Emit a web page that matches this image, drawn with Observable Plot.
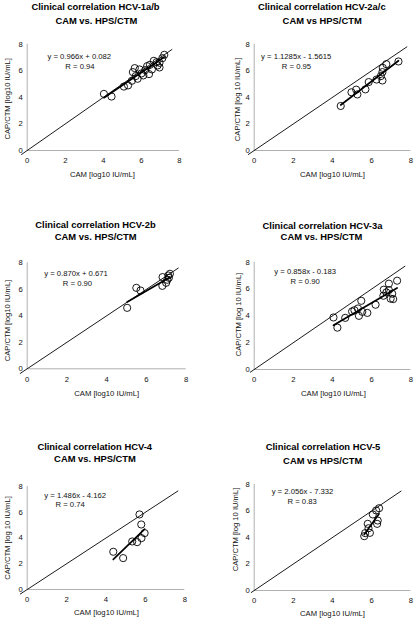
<!DOCTYPE html>
<html><head><meta charset="utf-8">
<script src="https://cdn.jsdelivr.net/npm/d3@7"></script>
<script src="https://cdn.jsdelivr.net/npm/@observablehq/plot@0.6"></script>
<style>
body{margin:0;background:#fff;}
#chart{position:relative;width:416px;height:621px;overflow:hidden;font-family:"Liberation Sans",Arial,sans-serif;}
#chart svg{position:absolute;overflow:visible;}
</style></head><body><div id="chart"></div>
<script>
// ---- text ----
const titles = ["Clinical correlation HCV-1a/b","Clinical correlation HCV-2a/c","Clinical correlation HCV-2b","Clinical correlation HCV-3a","Clinical correlation HCV-4","Clinical correlation HCV-5"];
const subtitles = ["CAM vs. HPS/CTM","CAM vs HPS/CTM","CAM vs. HPS/CTM","CAM vs. HPS/CTM","CAM vs. HPS/CTM","CAM vs HPS/CTM"];
const yLabels = ["CAP/CTM [log10 IU/mL]","CAP/CTM [log 10 IU/mL]","CAP/CTM [log10 IU/mL]","CAP/CTM [log 10 IU/mL]","CAP/CTM [log 10 IU/mL]","CAP/CTM [log 10 IU/mL]"];
const xLabels = ["CAM [log10 IU/mL]","CAM [log10 IU/mL]","CAM [log10 IU/mL]","CAM [log10 IU/mL]","CAM [log10 IU/mL]","CAM [log10 IU/mL]"];
const equations = ["y = 0.966x + 0.082","y = 1.1285x - 1.5615","y = 0.870x + 0.671","y = 0.858x - 0.183","y = 1.486x - 4.162","y = 2.056x - 7.332"];
const rTexts = ["R = 0.94","R = 0.95","R = 0.90","R = 0.90","R = 0.74","R = 0.83"];
const tickValues = [0,2,4,6,8];

// ---- regression ----
const slopes = [0.966, 1.1285, 0.870, 0.858, 1.486, 2.056];
const intercepts = [0.082, -1.5615, 0.671, -0.183, -4.162, -7.332];
// identity (y = x) line extent
const identityRange = [[-0.3,7.6],[-0.3,7.8],[-0.35,7.6],[-0.2,7.7],[-0.35,7.65],[-0.15,7.5]];

// ---- data: CAM (x) vs CAP/CTM (y) ----
const cam1 = [4.03,4.43,5.08,5.30,5.50,5.55,5.65,5.70,5.80,5.90,6.00,6.10,6.20,6.30,6.40,6.45,6.55,6.65,6.80,6.85,6.95,6.95,7.10,7.20];
const ctm1 = [4.26,4.06,4.81,4.90,5.25,5.90,6.20,5.60,5.40,6.10,5.80,5.65,6.05,6.35,5.75,6.45,6.10,6.75,6.65,6.40,6.25,6.60,6.95,7.20];
const cam2 = [4.42,4.97,5.21,5.27,5.68,5.85,6.25,6.47,6.55,6.55,6.57,6.75,7.37];
const ctm2 = [3.35,4.38,4.58,4.22,4.60,5.15,5.34,5.60,5.27,5.90,6.22,6.50,6.70];
const cam3 = [5.03,5.49,5.70,6.80,6.81,6.99,7.05,7.10,7.13,7.18];
const ctm3 = [4.60,6.11,5.91,6.26,6.92,6.49,6.72,7.04,6.87,7.17];
const cam4 = [4.05,4.25,4.65,5.00,5.12,5.30,5.35,5.47,5.52,5.78,6.20,6.60,6.62,6.75,6.88,6.88,6.97,7.05,7.10,7.30];
const ctm4 = [3.88,3.12,3.85,4.33,4.42,4.55,4.00,5.12,4.30,4.22,4.83,5.50,5.95,5.75,6.40,5.92,5.28,5.65,5.25,6.62];
const cam5 = [4.37,4.87,5.33,5.58,5.70,5.79,5.80,5.96];
const ctm5 = [2.93,2.44,3.73,3.68,5.83,5.05,3.99,4.38];
const cam6 = [5.62,5.67,5.80,5.84,5.91,6.06,6.23,6.28,6.31,6.38];
const ctm6 = [4.10,4.33,5.03,4.70,4.35,5.74,6.04,5.03,5.28,6.21];
const camAll = [cam1,cam2,cam3,cam4,cam5,cam6];
const ctmAll = [ctm1,ctm2,ctm3,ctm4,ctm5,ctm6];

// ---- layout (pixels) ----
const layout = [
  {left:0,   top:0,   w:208, h:200, ml:26.7, mr:29,  mt:43.7, mb:50,
   t1:[95,6.7], t2:[95.8,20], eq:[78.8,56], r:[79.5,66], yl:[-20,1.5], xl:[-1,24]},
  {left:208, top:0,   w:208, h:200, ml:45.7, mr:5.7, mt:43.7, mb:50,
   t1:[113.3,6.7], t2:[113.7,20], eq:[87.7,56.5], r:[88,66], yl:[-16.4,2], xl:[0,24]},
  {left:0,   top:200, w:208, h:210, ml:26.7, mr:22.3, mt:62.3, mb:41.7,
   t1:[95,24], t2:[95.2,36.7], eq:[75.5,72.7], r:[77,82.7], yl:[-19.4,4.7], xl:[0,24.4]},
  {left:208, top:200, w:208, h:210, ml:45.7, mr:5.7, mt:61.7, mb:41,
   t1:[114,25], t2:[113,36.7], eq:[96.7,71], r:[96.7,80.7], yl:[-15.7,-1.3], xl:[1,24.3]},
  {left:0,   top:410, w:208, h:211, ml:26.7, mr:23.7, mt:76, mb:32,
   t1:[94.2,36], t2:[94.5,48.3], eq:[74.7,85], r:[69.7,94.3], yl:[-19.4,0], xl:[0.5,23.3]},
  {left:208, top:410, w:208, h:211, ml:45.7, mr:5.7, mt:74, mb:31,
   t1:[114.5,36.7], t2:[114.2,50], eq:[94,80.7], r:[93.7,90.7], yl:[-19,-8], xl:[0,23.3]}
];

const chart = document.getElementById("chart");
const font = "Liberation Sans, Arial, sans-serif";

layout.forEach((L, i) => {
  const pts = camAll[i].map((x, j) => ({x, y: ctmAll[i][j]}));
  const ext = d3.extent(camAll[i]);
  const reg = ext.map(x => ({x, y: slopes[i] * x + intercepts[i]}));
  const idl = identityRange[i].map(v => ({x: v, y: v}));
  const at = (p, s) => ({frameAnchor: "top-left", textAnchor: "middle", lineAnchor: "middle",
                         dx: p[0] - L.ml, dy: p[1] - L.mt, ...s});
  const svg = Plot.plot({
    width: L.w, height: L.h,
    marginLeft: L.ml, marginRight: L.mr, marginTop: L.mt, marginBottom: L.mb,
    x: {domain: [0, 8]},
    y: {domain: [0, 8]},
    style: {fontFamily: font, fontSize: "7.7px", color: "#111", background: "transparent", overflow: "visible"},
    marks: [
      Plot.ruleY([0], {stroke: "#b0b0b0", strokeWidth: 1}),
      Plot.ruleX([0], {stroke: "#b0b0b0", strokeWidth: 1}),
      Plot.axisX({ticks: tickValues, tickSize: 0, tickPadding: 7.5, label: null, tickFormat: d => d}),
      Plot.axisY({ticks: tickValues, tickSize: 0, tickPadding: 4.5, label: null, tickFormat: d => d}),
      Plot.line(idl, {x: "x", y: "y", stroke: "#000", strokeWidth: 0.9}),
      Plot.line(reg, {x: "x", y: "y", stroke: "#000", strokeWidth: 1.7}),
      Plot.dot(pts, {x: "x", y: "y", r: 3.6, stroke: "#000", strokeWidth: 0.9, fill: "none"}),
      Plot.text([titles[i]], at(L.t1, {text: d => d, fontWeight: "bold", fontSize: 9.4, fill: "#000"})),
      Plot.text([subtitles[i]], at(L.t2, {text: d => d, fontWeight: "bold", fontSize: 9.4, fill: "#000"})),
      Plot.text([equations[i]], at(L.eq, {text: d => d, fontSize: 7.7, fill: "#111"})),
      Plot.text([rTexts[i]], at(L.r, {text: d => d, fontSize: 7.7, fill: "#111"})),
      Plot.text([yLabels[i]], {text: d => d, frameAnchor: "left", textAnchor: "middle", lineAnchor: "middle",
                               dx: L.yl[0], dy: L.yl[1], rotate: -90, fontSize: 7.6, fill: "#111"}),
      Plot.text([xLabels[i]], {text: d => d, frameAnchor: "bottom", textAnchor: "middle", lineAnchor: "middle",
                               dx: L.xl[0], dy: L.xl[1], fontSize: 7.7, fill: "#111"})
    ]
  });
  svg.style.left = L.left + "px";
  svg.style.top = L.top + "px";
  chart.appendChild(svg);
});
</script>
</body></html>
